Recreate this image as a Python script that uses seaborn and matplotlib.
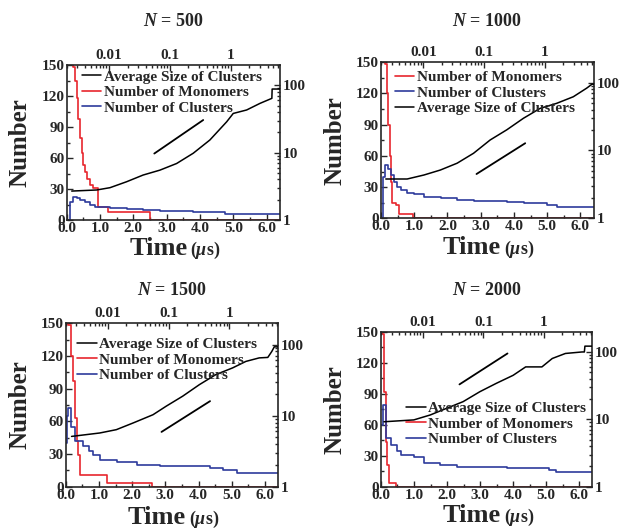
import numpy as np
import seaborn as sns
import matplotlib.pyplot as plt
from matplotlib.ticker import MultipleLocator, LogLocator, FuncFormatter, NullFormatter

# ---- values ----
# time in microseconds (linear bottom axis) for monomers / clusters,
# log-log (top / right axes) for the average cluster size

# N = 500
mono_t_500 = [0.0, 0.2, 0.25, 0.3, 0.35, 0.4, 0.45, 0.5, 0.55, 0.6, 0.7, 0.8, 0.95, 1.25, 2.5, 6.4]
mono_500 = [500, 148, 135, 118, 98, 79, 65, 53, 46, 40, 34, 31, 13, 8, 0, 0]
clus_t_500 = [0.0, 0.1, 0.18, 0.3, 0.4, 0.55, 0.7, 0.85, 1.0, 1.3, 1.8, 2.3, 2.8, 3.3, 3.8, 4.75, 6.4]
clus_500 = [0, 17, 22.5, 21, 19.4, 17, 14.5, 13, 12.3, 11.3, 10.3, 9.6, 9, 8.5, 8, 5.5, 5.5]
avg_t_500 = [0.00242, 0.0062, 0.0103, 0.0193, 0.036, 0.068, 0.128, 0.24, 0.45, 0.85, 1.09, 1.81, 3.0, 4.7, 4.75, 6.4]
avg_500 = [2.69, 2.79, 3.02, 3.7, 4.65, 5.5, 6.9, 9.8, 15.4, 28.7, 38.2, 43, 53.9, 64, 88, 88]
ref_t_500 = [0.055, 0.35]
ref_500 = [9.7, 30.5]

# N = 1000
mono_t_1000 = [0.0, 0.12, 0.17, 0.22, 0.26, 0.3, 0.34, 0.45, 0.55, 0.95, 6.4]
mono_1000 = [1000, 148, 120, 90, 60, 35, 15, 13, 4, 0, 0]
clus_t_1000 = [0.0, 0.05, 0.12, 0.2, 0.29, 0.4, 0.49, 0.6, 0.79, 1.0, 1.3, 1.8, 2.3, 2.8, 3.8, 4.3, 5.0, 5.3, 6.4]
clus_1000 = [0, 40, 51, 47, 41.6, 35, 30, 27, 24, 23, 20.8, 19.2, 18, 17, 16, 14.4, 12.8, 10.6, 10.6]
avg_t_1000 = [0.0024, 0.0054, 0.0102, 0.019, 0.036, 0.067, 0.126, 0.237, 0.446, 0.84, 1.57, 2.95, 4.9, 6.0, 6.4]
avg_1000 = [3.8, 3.8, 4.35, 5.15, 6.5, 9.1, 14.3, 20.2, 29.9, 41.8, 49.6, 62, 83, 95, 95]
ref_t_1000 = [0.075, 0.476]
ref_1000 = [4.5, 12.8]

# N = 1500
mono_t_1500 = [0.0, 0.08, 0.15, 0.23, 0.28, 0.33, 0.38, 0.43, 1.23, 2.59, 6.4]
mono_1500 = [1500, 148, 120, 97, 63, 42, 29, 11, 3.4, 0, 0]
clus_t_1500 = [0.0, 0.04, 0.08, 0.15, 0.28, 0.53, 0.7, 0.83, 1.03, 1.54, 2.14, 2.84, 4.35, 4.75, 5.15, 6.4]
clus_1500 = [40, 65, 72, 55, 41.7, 37, 33, 29.4, 24.8, 22.4, 20.2, 18.7, 17.5, 15.6, 12.6, 12.6]
avg_t_1500 = [0.0025, 0.0073, 0.0137, 0.026, 0.055, 0.091, 0.17, 0.32, 0.6, 1.13, 1.87, 3.1, 4.3, 5.0, 5.5, 6.4]
avg_1500 = [5.1, 5.7, 6.35, 7.9, 10.3, 13.6, 18.8, 27.3, 37.9, 47, 58, 65, 66, 80, 93, 93]
ref_t_1500 = [0.076, 0.48]
ref_1500 = [5.9, 16]

# N = 2000
mono_t_2000 = [0.0, 0.04, 0.09, 0.14, 0.19, 0.24, 0.44, 6.4]
mono_2000 = [2000, 148, 92, 43.6, 21, 3.3, 0, 0]
clus_t_2000 = [0.0, 0.05, 0.14, 0.29, 0.49, 0.6, 1.0, 1.3, 1.8, 2.3, 3.8, 4.3, 5.1, 5.3, 6.4]
clus_2000 = [60, 79, 46.8, 40, 35, 31, 29, 22.6, 21, 19.4, 18.4, 17.8, 16.2, 14.5, 14.5]
avg_t_2000 = [0.00224, 0.007, 0.0131, 0.0246, 0.046, 0.087, 0.163, 0.31, 0.5, 0.93, 1.38, 2.28, 4.3, 4.7, 4.8, 6.4]
avg_2000 = [9.2, 9.8, 11.6, 14.6, 18.3, 25.7, 34.2, 45, 60, 60, 80, 95, 100, 100, 122, 122]
ref_t_2000 = [0.04, 0.25]
ref_2000 = [33, 95]

LBL_AVG = "Average Size of Clusters"
LBL_MONO = "Number of Monomers"
LBL_CLUS = "Number of Clusters"

sns.set_style("ticks")
plt.rcParams["font.family"] = ["Liberation Serif", "DejaVu Serif"]
plt.rcParams["font.weight"] = "bold"
plt.rcParams["axes.labelweight"] = "bold"
plt.rcParams["mathtext.fontset"] = "custom"
plt.rcParams["mathtext.rm"] = "Liberation Serif:bold"
plt.rcParams["mathtext.it"] = "Liberation Serif:italic:bold"
plt.rcParams["mathtext.bf"] = "Liberation Serif:bold"

RED = "#e8262d"
BLUE = "#2e3b9c"

panels = [
    dict(N=500, rect=[0.1072, 0.5841, 0.343, 0.293], title_y=0.959,
         mono=(mono_t_500, mono_500), clus=(clus_t_500, clus_500),
         avg=(avg_t_500, avg_500), ref=(ref_t_500, ref_500),
         order=[LBL_AVG, LBL_MONO, LBL_CLUS], leg=(0.07, 0.968)),
    dict(N=1000, rect=[0.6125, 0.5873, 0.342, 0.295], title_y=0.959,
         mono=(mono_t_1000, mono_1000), clus=(clus_t_1000, clus_1000),
         avg=(avg_t_1000, avg_1000), ref=(ref_t_1000, ref_1000),
         order=[LBL_MONO, LBL_CLUS, LBL_AVG], leg=(0.064, 0.947)),
    dict(N=1500, rect=[0.1056, 0.080, 0.3418, 0.309], title_y=0.45,
         mono=(mono_t_1500, mono_1500), clus=(clus_t_1500, clus_1500),
         avg=(avg_t_1500, avg_1500), ref=(ref_t_1500, ref_1500),
         order=[LBL_AVG, LBL_MONO, LBL_CLUS], leg=(0.052, 0.913)),
    dict(N=2000, rect=[0.6125, 0.080, 0.340, 0.293], title_y=0.45,
         mono=(mono_t_2000, mono_2000), clus=(clus_t_2000, clus_2000),
         avg=(avg_t_2000, avg_2000), ref=(ref_t_2000, ref_2000),
         order=[LBL_AVG, LBL_MONO, LBL_CLUS], leg=(0.117, 0.55)),
]

fig = plt.figure(figsize=(6.22, 5.29), dpi=100)

for p in panels:
    ax = fig.add_axes(p["rect"])
    lax = fig.add_axes(p["rect"], frameon=False)
    lax.patch.set_visible(False)
    lax.set_xscale("log")
    lax.set_yscale("log")

    sns.lineplot(x=p["mono"][0], y=p["mono"][1], ax=ax, color=RED, lw=1.2,
                 drawstyle="steps-post", sort=False, estimator=None,
                 legend=False, label=LBL_MONO)
    sns.lineplot(x=p["clus"][0], y=p["clus"][1], ax=ax, color=BLUE, lw=1.2,
                 drawstyle="steps-post", sort=False, estimator=None,
                 legend=False, label=LBL_CLUS)
    sns.lineplot(x=p["avg"][0], y=p["avg"][1], ax=lax, color="black", lw=1.1,
                 sort=False, estimator=None, legend=False, label=LBL_AVG)
    sns.lineplot(x=p["ref"][0], y=p["ref"][1], ax=lax, color="black", lw=1.3,
                 sort=False, estimator=None, legend=False)

    # linear axes (bottom / left)
    ax.set_xlim(0, 6.4)
    ax.set_ylim(0, 150)
    ax.xaxis.set_major_locator(MultipleLocator(1))
    ax.xaxis.set_minor_locator(MultipleLocator(0.5))
    ax.xaxis.set_major_formatter(FuncFormatter(lambda v, _: f"{v:.1f}"))
    ax.yaxis.set_major_locator(MultipleLocator(30))
    ax.yaxis.set_minor_locator(MultipleLocator(15))
    ax.tick_params(which="both", direction="in", top=False, right=False,
                   labelsize=11, pad=1.5, width=1)
    ax.tick_params(which="major", length=4)
    ax.tick_params(which="minor", length=2.2)
    for s in ax.spines.values():
        s.set_linewidth(1.2)
    ax.set_xlabel("")
    ax.set_ylabel("Number", fontsize=18, fontweight="bold")
    ax.yaxis.set_label_coords(-0.163, 0.5)
    ax.text(0.565, -0.228, "Time", transform=ax.transAxes, ha="right",
            va="baseline", fontsize=19, fontweight="bold")
    ax.text(0.58, -0.228, r"($\mu$s)", transform=ax.transAxes, ha="left",
            va="baseline", fontsize=13)

    # log axes (top / right)
    lax.set_xlim(0.002, 6.4)
    lax.set_ylim(1, 200)
    lax.xaxis.tick_top()
    lax.yaxis.tick_right()
    lax.xaxis.set_major_locator(LogLocator(base=10))
    lax.xaxis.set_minor_locator(LogLocator(base=10, subs=np.arange(2, 10)))
    lax.yaxis.set_major_locator(LogLocator(base=10))
    lax.yaxis.set_minor_locator(LogLocator(base=10, subs=np.arange(2, 10)))
    fmt = FuncFormatter(lambda v, _: f"{v:g}")
    lax.xaxis.set_major_formatter(fmt)
    lax.yaxis.set_major_formatter(fmt)
    lax.xaxis.set_minor_formatter(NullFormatter())
    lax.yaxis.set_minor_formatter(NullFormatter())
    lax.tick_params(which="both", direction="in", top=True, right=True,
                    bottom=False, left=False, labeltop=True, labelright=True,
                    labelbottom=False, labelleft=False, labelsize=11, pad=2,
                    width=1)
    lax.tick_params(which="major", length=4)
    lax.tick_params(which="minor", length=2.2)
    lax.set_xlabel("")
    lax.set_ylabel("")

    # legend combining both axes
    h1, l1 = ax.get_legend_handles_labels()
    h2, l2 = lax.get_legend_handles_labels()
    lookup = dict(zip(l1 + l2, h1 + h2))
    lax.legend([lookup[k] for k in p["order"]], p["order"], loc="upper left",
               bbox_to_anchor=p["leg"], frameon=False, borderpad=0,
               borderaxespad=0, handlelength=1.3, handletextpad=0.15,
               labelspacing=0.12, fontsize=11)

    cx = p["rect"][0] + p["rect"][2] / 2
    fig.text(cx, p["title_y"], rf"$N$ = {p['N']}", ha="center", va="center",
             fontsize=13)

fig.savefig("out.png", dpi=100, facecolor="white")
